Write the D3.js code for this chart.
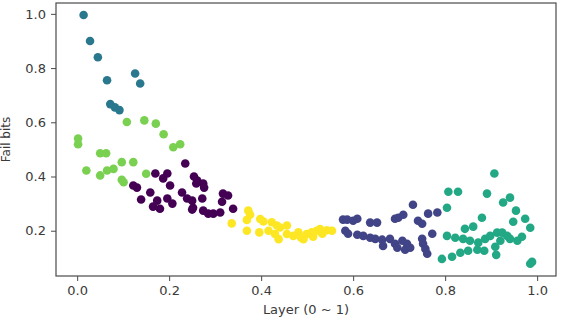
<!DOCTYPE html>
<html>
<head>
<meta charset="utf-8">
<script src="https://cdn.jsdelivr.net/npm/d3@7"></script>
<style>
  body { margin: 0; background: #fff; }
  svg { display: block; }
</style>
</head>
<body>
<div class="chart"></div>
<script>
// cluster points, [layer, fail bits]
let cluster0 = [ // purple
  [0.235,0.448],[0.170,0.411],[0.196,0.411],[0.187,0.393],[0.122,0.367],[0.130,0.359],
  [0.159,0.341],[0.139,0.315],[0.174,0.311],[0.196,0.319],[0.165,0.289],[0.180,0.281],
  [0.207,0.300],[0.202,0.367],[0.228,0.341],[0.239,0.319],[0.250,0.311],[0.250,0.278],
  [0.261,0.385],[0.254,0.400],[0.259,0.374],[0.274,0.374],[0.276,0.359],[0.272,0.319],
  [0.252,0.285],[0.274,0.274],[0.285,0.263],[0.296,0.263],[0.311,0.267],[0.317,0.337],
  [0.328,0.330],[0.315,0.307],[0.339,0.281]
];
let cluster1 = [ // navy
  [0.578,0.241],[0.587,0.241],[0.600,0.237],[0.609,0.244],[0.637,0.230],[0.652,0.230],
  [0.583,0.200],[0.589,0.189],[0.609,0.185],[0.622,0.181],[0.637,0.174],[0.648,0.170],
  [0.663,0.167],[0.665,0.144],[0.680,0.170],[0.691,0.152],[0.696,0.137],[0.707,0.163],
  [0.717,0.152],[0.713,0.130],[0.724,0.137],[0.691,0.244],[0.698,0.248],[0.709,0.259],
  [0.730,0.296],[0.741,0.237],[0.750,0.226],[0.763,0.263],[0.783,0.267],[0.772,0.189],
  [0.750,0.170],[0.752,0.152],[0.757,0.133],[0.761,0.115]
];
let cluster2 = [ // blue
  [0.014,0.996],[0.028,0.900],[0.045,0.840],[0.065,0.755],[0.126,0.780],[0.137,0.743],
  [0.072,0.667],[0.082,0.655],[0.092,0.645]
];
let cluster3 = [ // teal
  [0.907,0.411],[0.807,0.344],[0.828,0.344],[0.891,0.337],[0.804,0.285],[0.926,0.304],
  [0.941,0.322],[0.954,0.274],[0.974,0.244],[0.948,0.233],[0.985,0.211],[0.880,0.248],
  [0.843,0.207],[0.861,0.215],[0.804,0.181],[0.822,0.174],[0.839,0.170],[0.854,0.163],
  [0.872,0.156],[0.887,0.170],[0.898,0.181],[0.913,0.193],[0.924,0.193],[0.935,0.181],
  [0.941,0.170],[0.957,0.163],[0.967,0.178],[0.793,0.096],[0.815,0.104],[0.833,0.119],
  [0.850,0.126],[0.870,0.130],[0.885,0.126],[0.909,0.141],[0.911,0.111],[0.920,0.163],
  [0.989,0.085],[0.985,0.078]
];
let cluster4 = [ // green
  [0.108,0.601],[0.146,0.607],[0.171,0.595],[0.188,0.556],[0.209,0.508],[0.224,0.519],
  [0.002,0.540],[0.002,0.519],[0.050,0.486],[0.063,0.486],[0.097,0.453],[0.122,0.453],
  [0.020,0.422],[0.050,0.404],[0.065,0.422],[0.079,0.428],[0.097,0.388],[0.101,0.379],
  [0.150,0.410]
];
let cluster5 = [ // yellow
  [0.372,0.274],[0.376,0.259],[0.336,0.227],[0.369,0.240],[0.369,0.200],[0.398,0.243],
  [0.405,0.234],[0.396,0.194],[0.423,0.231],[0.434,0.219],[0.416,0.200],[0.441,0.212],
  [0.456,0.219],[0.438,0.169],[0.430,0.188],[0.456,0.188],[0.470,0.181],[0.481,0.194],
  [0.492,0.169],[0.499,0.188],[0.510,0.194],[0.521,0.200],[0.528,0.206],[0.543,0.202],
  [0.554,0.200],[0.487,0.174],[0.513,0.178],[0.533,0.189]
];
let clusters = [cluster0, cluster1, cluster2, cluster3, cluster4, cluster5];

let xTicks = [0, 0.2, 0.4, 0.6, 0.8, 1.0];
let yTicks = [0.2, 0.4, 0.6, 0.8, 1.0];
let xLabel = 'Layer (0 ~ 1)';
let yLabel = 'Fail bits';

let config = {
  width: 564,
  height: 328,
  left: 56,
  right: 556,
  top: 3,
  bottom: 276,
  radius: 4.3,
  fontFamily: '"DejaVu Sans", sans-serif',
  fontSize: '13px',
  textColor: '#3a3a3a',
  spineColor: '#4a4a4a'
};

let svg = d3.select('div.chart').append('svg')
  .attr('width', config.width)
  .attr('height', config.height);

let x = d3.scaleLinear().domain([-0.046, 1.041]).range([config.left, config.right]);
let y = d3.scaleLinear().domain([0.033, 1.04]).range([config.bottom, config.top]);
let color = d3.scaleSequential(d3.interpolateViridis).domain([0, clusters.length - 1]);

// points
let points = [];
clusters.forEach((c, i) => c.forEach(p => points.push({x: p[0], y: p[1], k: i})));

svg.append('g')
  .selectAll('circle')
  .data(points)
  .enter().append('circle')
  .attr('cx', d => x(d.x))
  .attr('cy', d => y(d.y))
  .attr('r', config.radius)
  .attr('fill', d => color(d.k));

// axes
let xAxis = svg.append('g')
  .attr('transform', 'translate(0,' + config.bottom + ')')
  .call(d3.axisBottom(x).tickValues(xTicks).tickFormat(d3.format('.1f')).tickSizeOuter(0).tickSize(5).tickPadding(5));

let yAxis = svg.append('g')
  .attr('transform', 'translate(' + config.left + ',0)')
  .call(d3.axisLeft(y).tickValues(yTicks).tickFormat(d3.format('.1f')).tickSizeOuter(0).tickSize(5).tickPadding(5));

[xAxis, yAxis].forEach(a => {
  a.select('.domain').remove();
  a.selectAll('line').attr('stroke', config.spineColor);
  a.selectAll('text')
    .attr('font-family', config.fontFamily)
    .attr('font-size', config.fontSize)
    .attr('fill', config.textColor);
});

// frame
svg.append('rect')
  .attr('x', config.left)
  .attr('y', config.top)
  .attr('width', config.right - config.left)
  .attr('height', config.bottom - config.top)
  .attr('fill', 'none')
  .attr('stroke', config.spineColor)
  .attr('stroke-width', 1.2);

svg.append('text')
  .text(xLabel)
  .attr('x', (config.left + config.right) / 2)
  .attr('y', 314)
  .attr('text-anchor', 'middle')
  .attr('font-family', config.fontFamily)
  .attr('font-size', config.fontSize)
  .attr('fill', config.textColor);

svg.append('text')
  .text(yLabel)
  .attr('transform', 'translate(10,' + (config.top + config.bottom) / 2 + ') rotate(-90)')
  .attr('text-anchor', 'middle')
  .attr('font-family', config.fontFamily)
  .attr('font-size', '12px')
  .attr('fill', config.textColor);
</script>
</body>
</html>
